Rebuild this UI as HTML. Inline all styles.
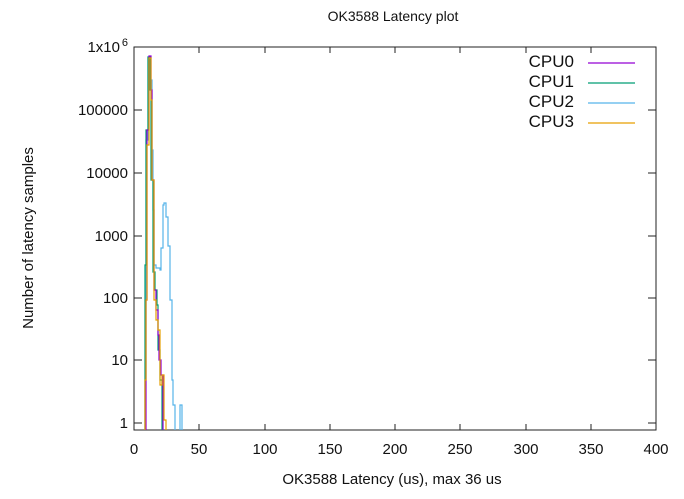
<!DOCTYPE html>
<html><head><style>body{margin:0;background:#fff}svg{display:block}text{font-family:"Liberation Sans",sans-serif;fill:#111}</style></head>
<body>
<svg width="684" height="499" viewBox="0 0 684 499">
<text x="393" y="21" font-size="14" text-anchor="middle">OK3588 Latency plot</text>
<rect x="134" y="47" width="522" height="383" fill="none" stroke="#222" stroke-width="1"/>
<g stroke="#222" stroke-width="1">
<path d="M134 423h8M134 360h8M134 298h8M134 236h8M134 173h8M134 110h8M134 47h8M656 423h-8M656 360h-8M656 298h-8M656 236h-8M656 173h-8M656 110h-8M656 47h-8"/>
<path d="M134 430v-6M199 430v-6M265 430v-6M330 430v-6M395 430v-6M460 430v-6M526 430v-6M591 430v-6M656 430v-6M134 47v6M199 47v6M265 47v6M330 47v6M395 47v6M460 47v6M526 47v6M591 47v6"/>
</g>
<g font-size="15" text-anchor="end">
<text x="128" y="428">1</text><text x="128" y="365">10</text><text x="128" y="303">100</text><text x="128" y="241">1000</text><text x="128" y="178">10000</text><text x="128" y="115">100000</text><text x="120" y="52">1x10</text><text x="128" y="46" font-size="11">6</text>
</g>
<g font-size="15" text-anchor="middle">
<text x="134" y="454">0</text><text x="199" y="454">50</text><text x="265" y="454">100</text><text x="330" y="454">150</text><text x="395" y="454">200</text><text x="460" y="454">250</text><text x="526" y="454">300</text><text x="591" y="454">350</text><text x="656" y="454">400</text>
</g>
<text x="392" y="484" font-size="15" text-anchor="middle">OK3588 Latency (us), max 36 us</text>
<text transform="translate(33 238) rotate(-90)" font-size="15" text-anchor="middle">Number of latency samples</text>
<g font-size="17" text-anchor="end"><text x="574" y="67">CPU0</text><text x="574" y="87">CPU1</text><text x="574" y="107">CPU2</text><text x="574" y="127">CPU3</text></g>
<g stroke-width="1.2" fill="none">
<path d="M588 63h47" stroke="#9400d3"/><path d="M588 83h47" stroke="#009e73"/><path d="M588 103h47" stroke="#56b4e9"/><path d="M588 123h47" stroke="#e69f00"/>
<path stroke="#56b4e9" d="M145 430V380h1V140h2V57h2V80h2V150h1V210h1V265h2V268h4V270h1V248h2V205h1V203h2V217h2V246h2V300h2V380h1V405h2V430M180 430V405h2V430"/>
<path stroke="#009e73" d="M145 430V265h1V130h2V57h2V90h1V180h2V272h2V290h2V305h1V350h2V380h2V430"/>
<path stroke="#9400d3" d="M146 430V300h1V130h2V56h2V90h1V180h2V290h2V310h2V335h1V360h2V375h2V430"/>
<path stroke="#e69f00" d="M145 430V380h1V300h1V145h2V58h2V100h1V180h2V300h2V320h2V330h2V385h2V375h2V420h2V430"/>
</g>
</svg>
</body></html>
